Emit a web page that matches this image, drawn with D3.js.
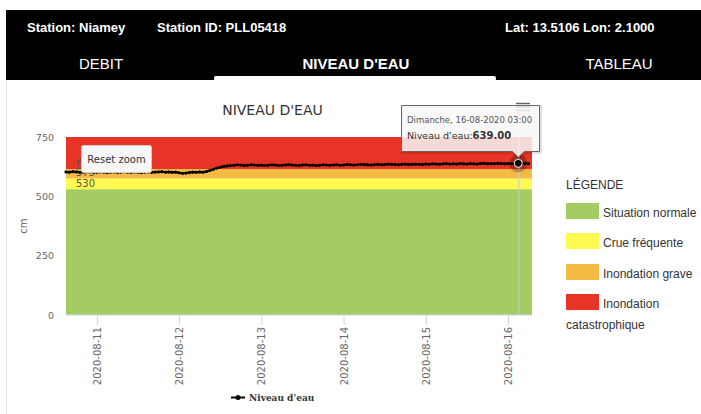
<!DOCTYPE html>
<html>
<head>
<meta charset="utf-8">
<script src="https://cdn.jsdelivr.net/npm/d3@7"></script>
<style>
  body { margin: 0; background: #fff; }
  svg { display: block; }
</style>
</head>
<body>
<svg id="chart" width="701" height="414"></svg>
<script>
// header / station info
const stationInfo = ["Station: Niamey", "Station ID: PLL05418", "Lat: 13.5106 Lon: 2.1000"];
const tabs = ["DEBIT", "NIVEAU D'EAU", "TABLEAU"];

// alert levels (cm)
const bandNames = ["Situation normale", "Crue fréquente", "Inondation grave", "Inondation catastrophique"];
const bandColors = ["#a3cd62", "#fffa4f", "#f5ba44", "#e73426"];
const bandFrom = [0, 530, 575, 615];
const bandTo = [530, 575, 615, 750];

// hourly water level (cm) starting 2020-08-10 15:00
const startTime = "2020-08-10T15:00:00Z";
const level = [
  603, 602, 604, 603, 601, 602, 604, 603, 602,
  601, 603, 602, 600, 602, 603, 601, 602, 604, 602, 601, 603, 602, 600, 602, 603, 601, 602, 603, 604, 602, 603, 601, 602,
  599, 597, 598, 600, 602, 601, 603, 602, 605, 609, 614, 619, 623, 626, 628, 630, 631, 633, 632, 630, 631, 633, 632, 631,
  632, 630, 631, 633, 632, 630, 631, 632, 634, 632, 631, 630, 632, 633, 631, 632, 630, 631, 633, 632, 631, 632, 633, 631,
  632, 634, 633, 632, 633, 635, 634, 633, 632, 634, 635, 633, 634, 636, 635, 634, 633, 635, 636, 634, 635, 636, 635, 634,
  636, 635, 637, 636, 635, 637, 638, 636, 637, 636, 638, 637, 636, 638, 637, 636, 638, 639, 637, 638, 637, 639, 638, 637,
  638, 637, 638, 639, 638, 639, 638
];
const xTicks = ["2020-08-11", "2020-08-12", "2020-08-13", "2020-08-14", "2020-08-15", "2020-08-16"];
const yTicks = [0, 250, 500, 750];
const hoverIndex = 132; // 16-08-2020 03:00

const t0 = new Date(startTime);
const data = level.map((v, i) => ({ date: new Date(t0.getTime() + i * 3600000), value: v }));

const svg = d3.select("#chart");
const chartFont = "'DejaVu Sans', sans-serif";

// header
svg.append("rect").attr("x", 0).attr("y", 0).attr("width", 701).attr("height", 414).attr("fill", "#fff");
svg.append("line").attr("x1", 6.5).attr("x2", 6.5).attr("y1", 78).attr("y2", 414).attr("stroke", "#e4e4e4");
svg.append("rect").attr("x", 6).attr("y", 10).attr("width", 695).attr("height", 70).attr("fill", "#000");
svg.append("rect").attr("x", 214).attr("y", 76).attr("width", 282).attr("height", 5).attr("rx", 2).attr("fill", "#fff");

const infoX = [27, 157, 505];
svg.selectAll(".info").data(stationInfo).enter().append("text")
  .attr("x", (d, i) => infoX[i]).attr("y", 32)
  .attr("fill", "#fff").attr("font-family", "'Liberation Sans', Arial, sans-serif")
  .attr("font-size", 13).attr("font-weight", "bold")
  .text(d => d);

const tabX = [101, 356, 619];
svg.selectAll(".tab").data(tabs).enter().append("text")
  .attr("x", (d, i) => tabX[i]).attr("y", 69)
  .attr("text-anchor", "middle")
  .attr("fill", "#fff").attr("font-family", "'Liberation Sans', Arial, sans-serif")
  .attr("font-size", 15).attr("font-weight", (d, i) => i === 1 ? "bold" : "normal")
  .text(d => d);

// scales
const x = d3.scaleUtc()
  .domain([new Date("2020-08-10T15:00:00Z"), new Date("2020-08-16T07:00:00Z")])
  .range([66, 532]);
const y = d3.scaleLinear().domain([0, 750]).range([315, 137]);

// title
svg.append("text").attr("x", 272.5).attr("y", 115).attr("text-anchor", "middle")
  .attr("font-family", chartFont).attr("font-size", 14).attr("fill", "#333")
  .text("NIVEAU D'EAU");

// plot bands
svg.selectAll(".band").data(bandFrom).enter().append("rect")
  .attr("x", x.range()[0]).attr("width", x.range()[1] - x.range()[0])
  .attr("y", (d, i) => y(bandTo[i])).attr("height", (d, i) => y(d) - y(bandTo[i]))
  .attr("fill", (d, i) => bandColors[i]);

// band threshold labels
svg.selectAll(".bandLabel").data(bandFrom.slice(1)).enter().append("text")
  .attr("x", 76).attr("y", d => y(d) - 2.5)
  .attr("font-family", chartFont).attr("font-size", 10).attr("fill", "#555")
  .text(d => d);

// x axis
const xAxis = svg.append("g").attr("transform", "translate(0,315)");
xAxis.append("line").attr("x1", 66).attr("x2", 532).attr("stroke", "#ccd6eb");
const tickDates = xTicks.map(s => new Date(s + "T00:00:00Z"));
xAxis.selectAll(".tick").data(tickDates).enter().append("line")
  .attr("x1", d => x(d) + 0.5).attr("x2", d => x(d) + 0.5).attr("y1", 0).attr("y2", 10)
  .attr("stroke", "#ccd6eb");
xAxis.selectAll(".tickLabel").data(xTicks).enter().append("text")
  .attr("transform", (d, i) => `translate(${x(tickDates[i]) + 4},12) rotate(-90)`)
  .attr("text-anchor", "end")
  .attr("font-family", chartFont).attr("font-size", 10).attr("fill", "#666")
  .text(d => d);

// y axis labels
svg.selectAll(".yLabel").data(yTicks).enter().append("text")
  .attr("x", 54).attr("y", d => y(d) + 3.5).attr("text-anchor", "end")
  .attr("font-family", chartFont).attr("font-size", 9.5).attr("fill", "#666")
  .text(d => d);
svg.append("text").attr("transform", "translate(27,226) rotate(-90)").attr("text-anchor", "middle")
  .attr("font-family", chartFont).attr("font-size", 10).attr("fill", "#666")
  .text("cm");

// crosshair
const hover = data[hoverIndex];
svg.append("line")
  .attr("x1", x(hover.date) + 0.5).attr("x2", x(hover.date) + 0.5)
  .attr("y1", 137).attr("y2", 315)
  .attr("stroke", "#cccccc").attr("stroke-width", 1);

// line series
const line = d3.line().x(d => x(d.date)).y(d => y(d.value));
svg.append("path").datum(data)
  .attr("d", line).attr("fill", "none").attr("stroke", "#000").attr("stroke-width", 2);
svg.selectAll(".pt").data(data).enter().append("circle")
  .attr("cx", d => x(d.date)).attr("cy", d => y(d.value)).attr("r", 1.6).attr("fill", "#000");

// hovered point
svg.append("circle").attr("cx", x(hover.date)).attr("cy", y(hover.value)).attr("r", 9)
  .attr("fill", "#000").attr("opacity", 0.25);
svg.append("circle").attr("cx", x(hover.date)).attr("cy", y(hover.value)).attr("r", 4)
  .attr("fill", "#000").attr("stroke", "#fff").attr("stroke-width", 1);

// reset zoom button
svg.append("rect").attr("x", 81.5).attr("y", 145.5).attr("width", 70).attr("height", 27).attr("rx", 2)
  .attr("fill", "#f7f7f7").attr("stroke", "#cccccc");
svg.append("text").attr("x", 116.5).attr("y", 162.5).attr("text-anchor", "middle")
  .attr("font-family", chartFont).attr("font-size", 10).attr("fill", "#333")
  .text("Reset zoom");

// export menu icon
svg.selectAll(".menu").data([0, 1, 2]).enter().append("line")
  .attr("x1", 516).attr("x2", 530).attr("y1", d => 103.5 + d * 3.5).attr("y2", d => 103.5 + d * 3.5)
  .attr("stroke", "#666").attr("stroke-width", 1.5);

// tooltip
const hx = x(hover.date), hy = y(hover.value);
const tip = svg.append("g");
const tipPath = `M${401.5},${105.5} H${539.5} V${151.5} H${hx + 6} L${hx},${hy - 6} L${hx - 6},${151.5} H${401.5} Z`;
tip.append("path").attr("d", tipPath).attr("transform", "translate(1,1)")
  .attr("fill", "none").attr("stroke", "rgba(0,0,0,0.12)").attr("stroke-width", 3);
tip.append("path").attr("d", tipPath)
  .attr("fill", "rgba(247,247,247,0.85)").attr("stroke", "#666").attr("stroke-width", 1);
const fmt = d3.utcFormat("%d-%m-%Y %H:%M");
tip.append("text").attr("x", 407).attr("y", 123)
  .attr("font-family", chartFont).attr("font-size", 8.5).attr("fill", "#555")
  .text("Dimanche, " + fmt(hover.date));
const t2 = tip.append("text").attr("x", 407).attr("y", 139)
  .attr("font-family", chartFont).attr("font-size", 9.5).attr("fill", "#333");
t2.append("tspan").text("Niveau d'eau:");
t2.append("tspan").attr("font-weight", "bold").attr("font-size", 10).text(hover.value.toFixed(2));

// series legend (bottom)
svg.append("line").attr("x1", 231).attr("x2", 245).attr("y1", 397.5).attr("y2", 397.5)
  .attr("stroke", "#000").attr("stroke-width", 2);
svg.append("circle").attr("cx", 238).attr("cy", 397.5).attr("r", 2.5).attr("fill", "#000");
svg.append("text").attr("x", 249).attr("y", 401)
  .attr("font-family", "'DejaVu Serif', serif").attr("font-size", 9).attr("font-weight", "bold").attr("fill", "#333")
  .text("Niveau d'eau");

// alert level legend (right)
const legendFont = "'Liberation Sans', Arial, sans-serif";
svg.append("text").attr("x", 566).attr("y", 189)
  .attr("font-family", legendFont).attr("font-size", 12).attr("fill", "#333").text("LÉGENDE");
const legendY = [203, 233, 264, 294];
const lg = svg.selectAll(".lg").data(bandNames).enter().append("g");
lg.append("rect").attr("x", 566).attr("y", (d, i) => legendY[i]).attr("width", 33).attr("height", 16)
  .attr("fill", (d, i) => bandColors[i]);
lg.append("text").attr("x", 603).attr("y", (d, i) => legendY[i] + 14)
  .attr("font-family", legendFont).attr("font-size", 12).attr("fill", "#333")
  .text(d => d === "Inondation catastrophique" ? "Inondation" : d);
svg.append("text").attr("x", 566).attr("y", 329)
  .attr("font-family", legendFont).attr("font-size", 12).attr("fill", "#333").text("catastrophique");
</script>
</body>
</html>
